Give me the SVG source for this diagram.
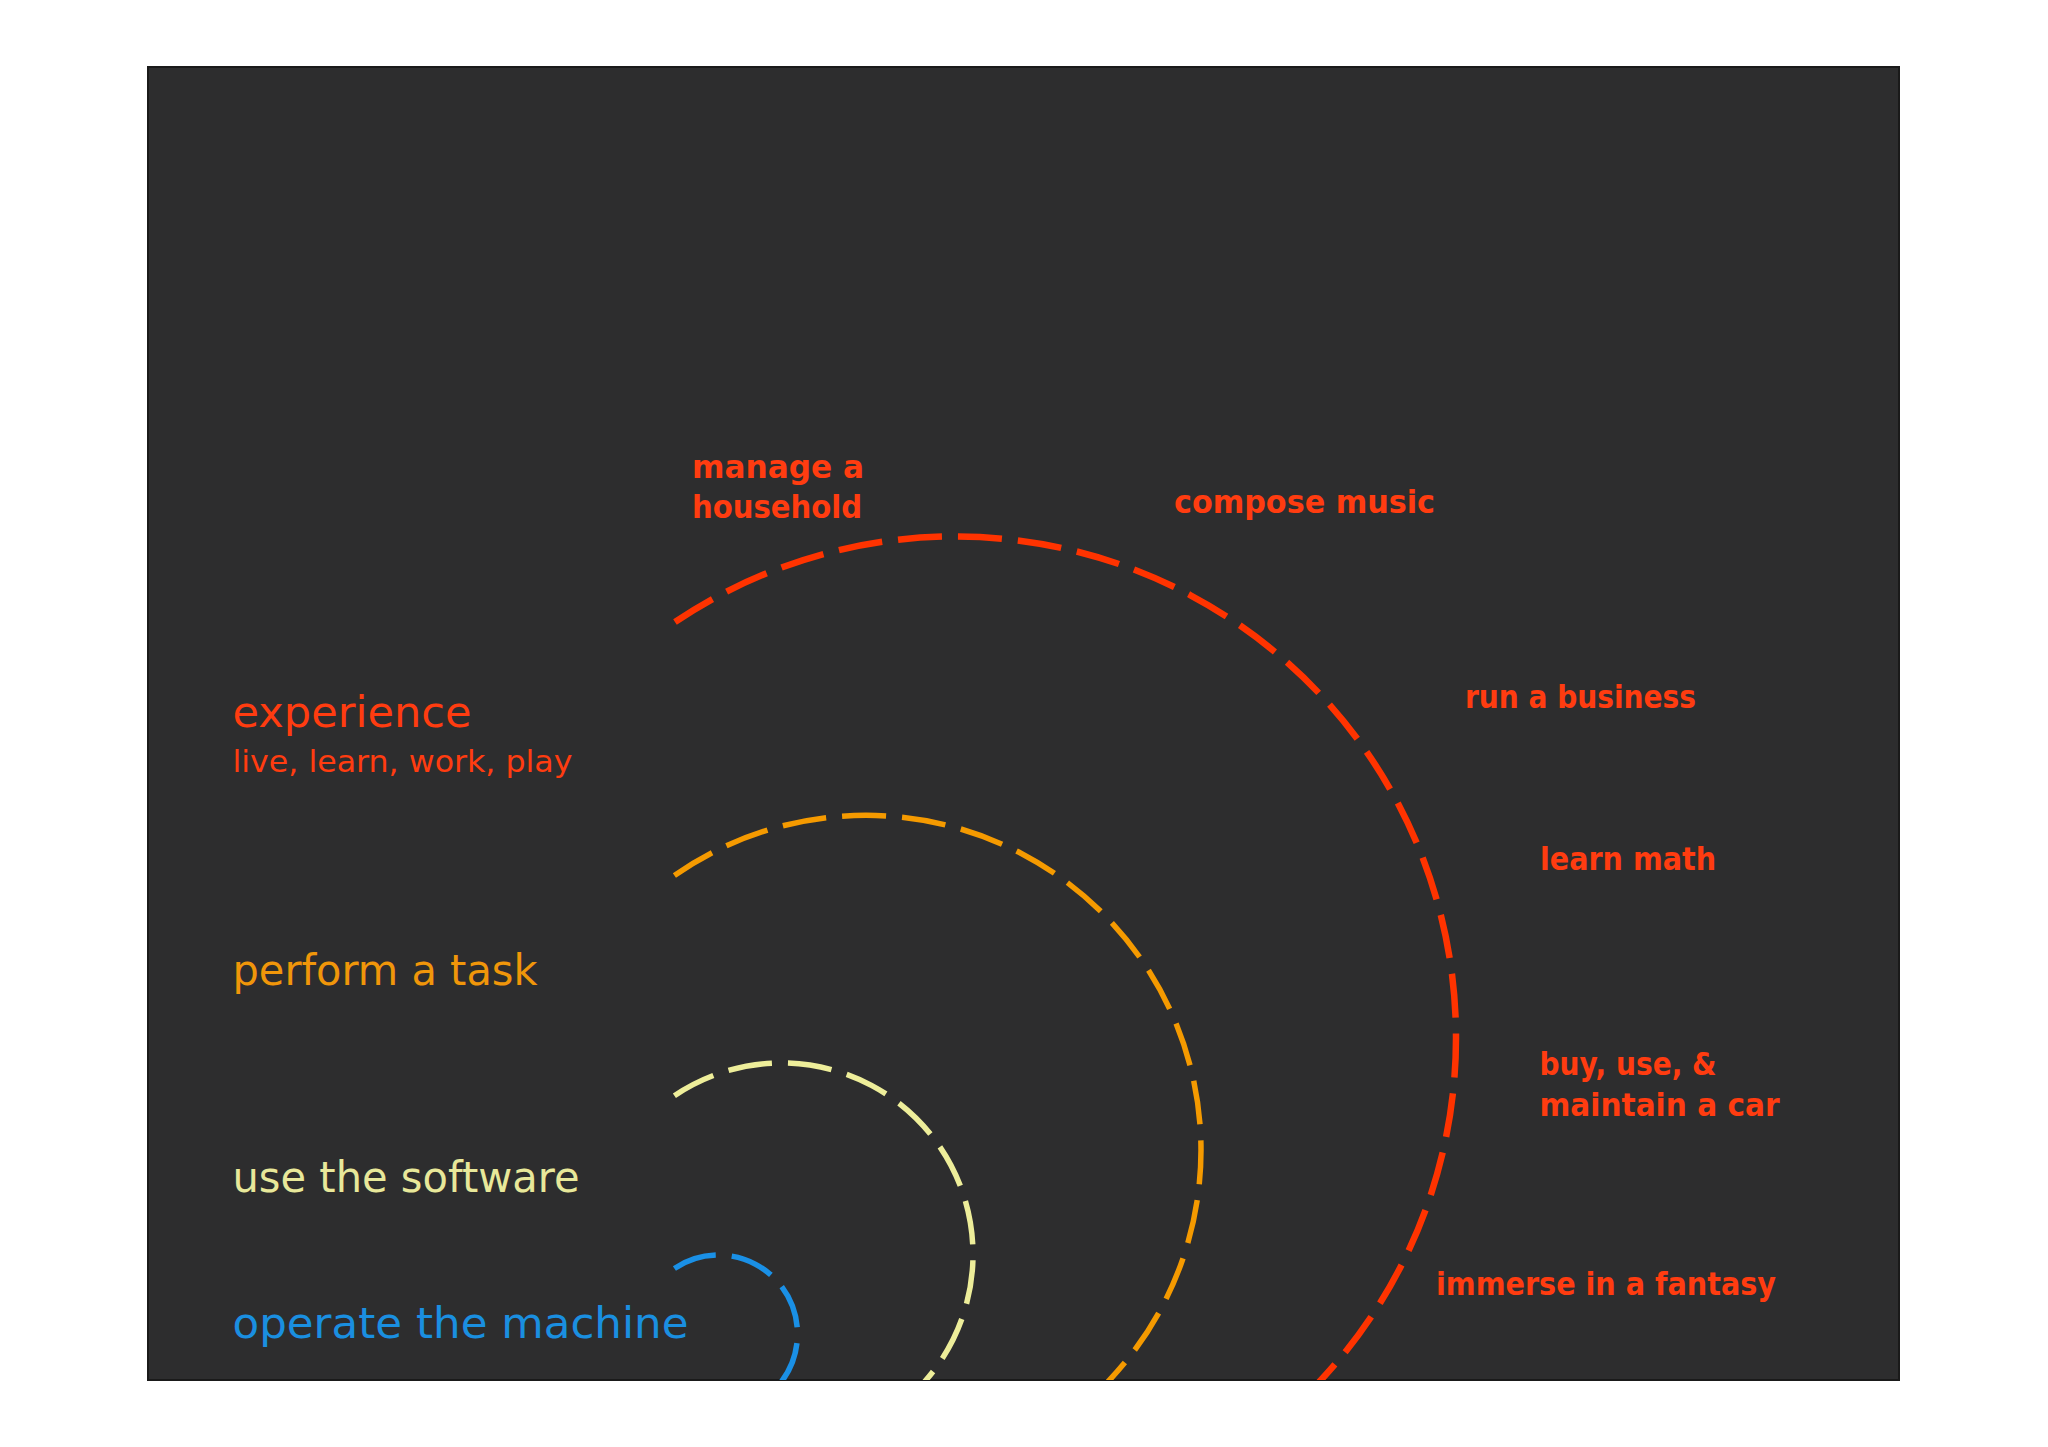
<svg xmlns="http://www.w3.org/2000/svg" width="2048" height="1447" viewBox="0 0 2048 1447">
  <defs>
    <clipPath id="panel">
      <rect x="148" y="67" width="1751" height="1313"/>
    </clipPath>
    <style>
      .lbl { font-family: "DejaVu Sans", "Liberation Sans", sans-serif; }
      .big { font-size: 42px; }
      .sub { font-size: 31px; }
      .bold { font-family: "DejaVu Sans", "Liberation Sans", sans-serif; font-weight: bold; font-size: 32px; fill: #ff3c10; }
      .arc { fill: none; stroke-dasharray: 44 16; stroke-linecap: butt; }
      .red { fill: #ff3c10; }
    </style>
  </defs>
  <rect x="0" y="0" width="2048" height="1447" fill="#ffffff"/>
  <rect x="148" y="67" width="1751" height="1313" fill="#2d2d2e" stroke="#1a1a1a" stroke-width="2"/>

  <g id="connectors" clip-path="url(#panel)">
    <path id="arc-experience" class="arc" stroke="#ff3300" stroke-width="6.5" d="M 675 622 A 501 501 0 0 1 1456 1038 A 501 501 0 0 1 1279 1420"/>
    <path id="arc-task" class="arc" stroke="#f59a00" stroke-width="5.5" d="M 674.4 875.5 A 335 335 0 0 1 1201 1150 A 335 335 0 0 1 1064.3 1420"/>
    <path id="arc-software" class="arc" stroke="#eeee9a" stroke-width="5.5" d="M 674.4 1095.7 A 191.5 191.5 0 0 1 973 1254.5 A 191.5 191.5 0 0 1 877.8 1420"/>
    <path id="arc-machine" class="arc" stroke="#1a90e6" stroke-width="5.5" d="M 674.4 1268.5 A 79 79 0 0 1 797.5 1334 A 79 79 0 0 1 718.5 1413"/>
  </g>

  <g id="label-experience">
    <text class="lbl big red" x="232.5" y="727" textLength="239" lengthAdjust="spacingAndGlyphs">experience</text>
    <text class="lbl sub red" x="232.5" y="772" textLength="340" lengthAdjust="spacingAndGlyphs">live, learn, work, play</text>
  </g>
  <g id="label-task">
    <text class="lbl big" fill="#f0960a" x="232.5" y="985" textLength="305" lengthAdjust="spacingAndGlyphs">perform a task</text>
  </g>
  <g id="label-software">
    <text class="lbl big" fill="#e8e89a" x="232.5" y="1192" textLength="347" lengthAdjust="spacingAndGlyphs">use the software</text>
  </g>
  <g id="label-machine">
    <text class="lbl big" fill="#1a8fe0" x="232.5" y="1338" textLength="456" lengthAdjust="spacingAndGlyphs">operate the machine</text>
  </g>

  <g id="item-household">
    <text class="bold" x="692" y="478" textLength="172" lengthAdjust="spacingAndGlyphs">manage a</text>
    <text class="bold" x="692" y="518" textLength="170" lengthAdjust="spacingAndGlyphs">household</text>
  </g>
  <g id="item-music">
    <text class="bold" x="1174" y="513" textLength="261" lengthAdjust="spacingAndGlyphs">compose music</text>
  </g>
  <g id="item-business">
    <text class="bold" x="1465" y="708" textLength="231" lengthAdjust="spacingAndGlyphs">run a business</text>
  </g>
  <g id="item-math">
    <text class="bold" x="1540" y="870" textLength="176" lengthAdjust="spacingAndGlyphs">learn math</text>
  </g>
  <g id="item-car">
    <text class="bold" x="1539.5" y="1075" textLength="177" lengthAdjust="spacingAndGlyphs">buy, use, &amp;</text>
    <text class="bold" x="1539.5" y="1116" textLength="240" lengthAdjust="spacingAndGlyphs">maintain a car</text>
  </g>
  <g id="item-fantasy">
    <text class="bold" x="1436" y="1295" textLength="340" lengthAdjust="spacingAndGlyphs">immerse in a fantasy</text>
  </g>
</svg>
